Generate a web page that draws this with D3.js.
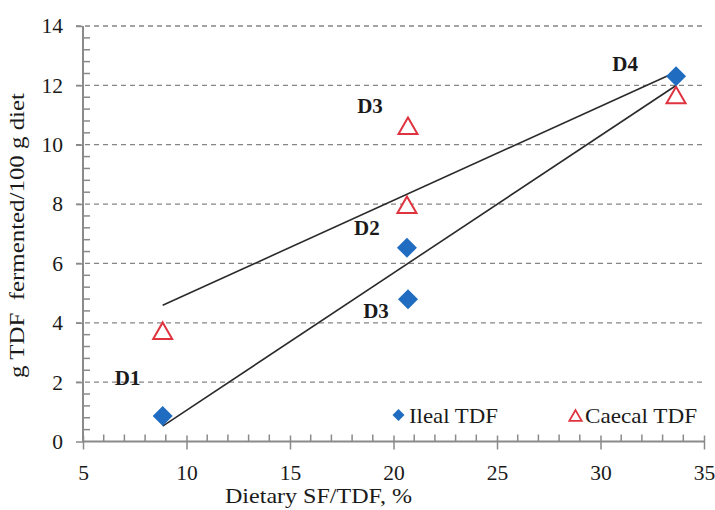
<!DOCTYPE html>
<html><head><meta charset="utf-8">
<script src="https://cdn.jsdelivr.net/npm/d3@7"></script>
<style>body{margin:0;background:#fff}svg{display:block}text{font-family:"Liberation Serif","Times New Roman",serif;fill:#1a1a1a}</style>
</head><body><svg id="c" width="715" height="510"></svg>
<script>
const dietNames = ["D1","D2","D3","D4"];
const dietarySF = [8.85, 20.65, 20.7, 33.65];
const ilealTDF = [0.86, 6.53, 4.79, 12.31];
const caecalTDF = [3.66, 7.9, 10.56, 11.6];
const xTicks = [5,10,15,20,25,30,35];
const yTicks = [0,2,4,6,8,10,12,14];
const seriesNames = ["Ileal TDF","Caecal TDF"];
const labelSpecs = [
  {name:"D1", series:"ileal", i:0, dx:-35, dy:-38},
  {name:"D2", series:"ileal", i:1, dx:-40, dy:-20},
  {name:"D3", series:"ileal", i:2, dx:-32, dy:12},
  {name:"D4", series:"ileal", i:3, dx:-51, dy:-12},
  {name:"D3", series:"caecal", i:2, dx:-38, dy:-22}
];

const svg = d3.select("#c");
const x = d3.scaleLinear().domain([5,35]).range([83,704]);
const y = d3.scaleLinear().domain([0,14]).range([441.5,26]);
const axisColor = "#8a8a8a";

svg.append("g").selectAll("line").data(yTicks.filter(d=>d>0)).join("line")
  .attr("x1",76).attr("x2",703).attr("y1",d=>y(d)).attr("y2",d=>y(d))
  .attr("stroke","#858585").attr("stroke-width",1.3).attr("stroke-dasharray","5,4");

const yMinor = d3.range(0,14.001,0.4).map(v=>+v.toFixed(2)).filter(v=>!yTicks.includes(v));
const gy = svg.append("g").attr("transform","translate(83,0)");
gy.call(d3.axisLeft(y).tickValues(yTicks).tickSize(7).tickPadding(13).tickFormat(d3.format("d")));
gy.append("g").selectAll("line").data(yMinor).join("line")
  .attr("x1",0).attr("x2",7).attr("y1",d=>y(d)).attr("y2",d=>y(d));
gy.selectAll("line").attr("stroke",axisColor).attr("stroke-width",1.5);
gy.select(".domain").attr("stroke",axisColor).attr("stroke-width",2).attr("d",`M0,${y(14)}V${y(0)}`);
gy.selectAll(".tick text").attr("font-size",21.5).attr("fill","#1a1a1a");

const xMinor = d3.range(5,35.001,1).filter(v=>!xTicks.includes(v));
const gx = svg.append("g").attr("transform",`translate(0,${y(0)})`);
gx.call(d3.axisBottom(x).tickValues(xTicks).tickSize(8).tickPadding(15).tickFormat(d3.format("d")));
gx.selectAll(".tick line").attr("y1",-6);
gx.append("g").selectAll("line").data(xMinor).join("line")
  .attr("x1",d=>x(d)).attr("x2",d=>x(d)).attr("y1",0).attr("y2",-7);
gx.selectAll("line").attr("stroke",axisColor).attr("stroke-width",1.5);
gx.select(".domain").attr("stroke",axisColor).attr("stroke-width",2).attr("d",`M${x(5)},0H${x(35)}`);
gx.selectAll(".tick text").attr("font-size",21.5).attr("fill","#1a1a1a");

function fit(xs, ys){
  const n=xs.length, mx=d3.mean(xs), my=d3.mean(ys);
  let sxy=0,sxx=0; for(let i=0;i<n;i++){sxy+=(xs[i]-mx)*(ys[i]-my); sxx+=(xs[i]-mx)**2;}
  const b=sxy/sxx, a=my-b*mx; return v=>a+b*v;
}
const x0=d3.min(dietarySF), x1=d3.max(dietarySF);
[ilealTDF, caecalTDF].forEach(ys=>{
  const f=fit(dietarySF, ys);
  svg.append("line").attr("x1",x(x0)).attr("y1",y(f(x0))).attr("x2",x(x1)).attr("y2",y(f(x1)))
    .attr("stroke","#2a2a2a").attr("stroke-width",1.6);
});

const blue="#1f6cc0", red="#e03340";
const diamond = s=>`M0,${-s}L${s},0L0,${s}L${-s},0Z`;
const tri = s=>`M0,${-s*1.05}L${s*0.95},${s*0.6}L${-s*0.95},${s*0.6}Z`;
svg.append("g").selectAll("path").data(caecalTDF).join("path")
  .attr("transform",(d,i)=>`translate(${x(dietarySF[i])},${y(d)})`)
  .attr("d",tri(10)).attr("fill","#fff").attr("stroke",red).attr("stroke-width",2);
svg.append("g").selectAll("path").data(ilealTDF).join("path")
  .attr("transform",(d,i)=>`translate(${x(dietarySF[i])},${y(d)})`)
  .attr("d",diamond(10)).attr("fill",blue);

svg.append("g").selectAll("text").data(labelSpecs).join("text")
  .attr("x",d=>x(dietarySF[d.i])+d.dx)
  .attr("y",d=>y((d.series==="ileal"?ilealTDF:caecalTDF)[d.i])+d.dy)
  .attr("text-anchor","middle").attr("dominant-baseline","central")
  .attr("font-size",21).attr("font-weight","bold").attr("fill","#111").text(d=>d.name);

const lg = svg.append("g");
lg.append("path").attr("transform","translate(398.5,415)").attr("d",diamond(6)).attr("fill",blue);
lg.append("text").attr("x",409).attr("y",423).attr("font-size",22).attr("textLength",89).attr("lengthAdjust","spacingAndGlyphs").text(seriesNames[0]);
lg.append("path").attr("transform","translate(575.5,417)").attr("d",tri(6.5)).attr("fill","#fff").attr("stroke",red).attr("stroke-width",1.8);
lg.append("text").attr("x",585).attr("y",423).attr("font-size",22).attr("textLength",112).attr("lengthAdjust","spacingAndGlyphs").text(seriesNames[1]);

svg.append("text").attr("x",225).attr("y",503).attr("font-size",22).attr("textLength",187).attr("lengthAdjust","spacingAndGlyphs").text("Dietary SF/TDF, %");
svg.append("text").attr("transform","translate(24,378) rotate(-90)")
  .attr("font-size",22).attr("textLength",285).attr("lengthAdjust","spacingAndGlyphs").attr("xml:space","preserve").text("g TDF  fermented/100 g diet");
</script></body></html>
